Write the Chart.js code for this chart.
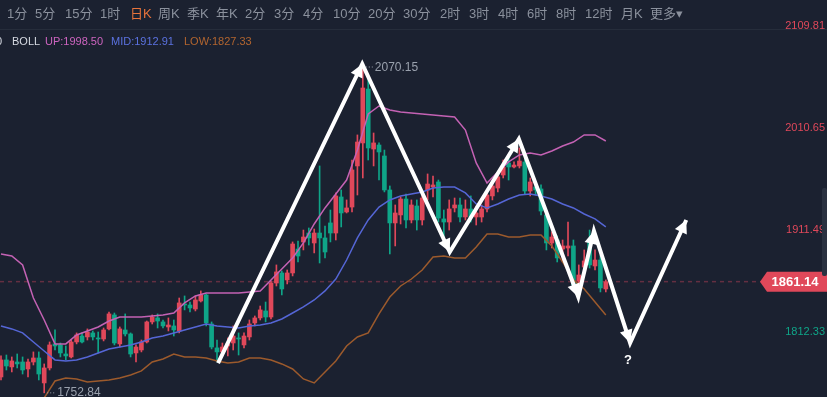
<!DOCTYPE html>
<html>
<head>
<meta charset="utf-8">
<script src="https://cdn.jsdelivr.net/npm/chart.js@4.4.1/dist/chart.umd.min.js"></script>
<style>
  html, body { margin: 0; padding: 0; background: #1b2130; }
  #wrap { position: relative; width: 827px; height: 397px; overflow: hidden; }
  #c { position: absolute; left: 0; top: 0; }
  .tb { position: absolute; top: 5px; font-size: 13px; line-height: 18px; color: #8b919d;
        font-family: "Liberation Sans", "Noto Sans CJK SC", sans-serif; white-space: nowrap; }
  .tb.on { color: #e8743b; }
  .lg { position: absolute; top: 33px; font-size: 11px; line-height: 16px;
        font-family: "Liberation Sans", Arial, sans-serif; white-space: nowrap; }
  #sep { position: absolute; left: 0; top: 29px; width: 827px; height: 1px; background: #262d3b; }
  #scroll { position: absolute; left: 822px; top: 188px; width: 5px; height: 88px; background: #2a3140; border-radius: 2px; }
</style>
</head>
<body>
<div id="wrap">
  <canvas id="c" width="827" height="397"></canvas>
  <div id="sep"></div>
  <div id="scroll"></div>
</div>
<script>
// candles, oldest first (daily K)
const opens = [1768.3, 1784.9, 1778.1, 1782.9, 1782.9, 1776.1, 1782.9, 1786.8, 1762.5, 1777.1,
  1800.5, 1799.5, 1790.7, 1787.8, 1802.4, 1808.2, 1807.3, 1811.2, 1806.3, 1805.3,
  1815.1, 1828.7, 1800.5, 1814.1, 1810.2, 1791.7, 1794.6, 1802.4, 1821.9, 1825.8,
  1821.9, 1817.0, 1818.0, 1813.1, 1839.4, 1838.4, 1834.5, 1842.3, 1848.2, 1819.9,
  1796.6, 1792.7, 1798.5, 1801.4, 1806.3, 1799.5, 1807.3, 1820.9, 1825.8, 1832.6,
  1826.7, 1859.8, 1869.6, 1862.8, 1869.6, 1892.9, 1899.8, 1908.5, 1898.8, 1908.5,
  1903.7, 1918.3, 1908.5, 1943.6, 1929.0, 1933.8, 1973.8, 1996.2, 2048.7, 1990.3,
  1994.2, 1983.5, 1950.4, 1918.3, 1926.1, 1941.6, 1921.2, 1934.8, 1921.2, 1950.4,
  1953.3, 1958.2, 1922.2, 1919.2, 1932.9, 1935.8, 1924.1, 1931.9, 1924.1, 1924.1,
  1931.9, 1944.6, 1952.3, 1965.0, 1976.7, 1972.8, 1973.8, 1977.7, 1949.4, 1953.3,
  1951.4, 1926.1, 1898.8, 1901.7, 1892.9, 1893.9, 1895.9, 1861.8, 1875.4, 1901.7,
  1876.4, 1882.2, 1854.0];
const highs = [1788.8, 1789.7, 1787.8, 1790.7, 1787.8, 1785.8, 1792.7, 1792.7, 1781.0, 1802.4,
  1814.1, 1801.4, 1798.5, 1804.3, 1811.2, 1811.2, 1815.1, 1813.1, 1812.1, 1816.0,
  1831.6, 1830.6, 1817.0, 1829.7, 1811.2, 1799.5, 1804.3, 1822.8, 1828.7, 1829.7,
  1823.8, 1825.8, 1823.8, 1845.2, 1847.2, 1841.3, 1847.2, 1852.1, 1849.1, 1821.9,
  1804.3, 1801.4, 1806.3, 1818.0, 1811.2, 1811.2, 1823.8, 1827.7, 1837.4, 1841.3,
  1861.8, 1877.4, 1871.5, 1872.5, 1899.8, 1900.7, 1911.4, 1913.4, 1912.4, 1973.8,
  1915.3, 1930.9, 1947.5, 1950.4, 1940.7, 1979.6, 2004.0, 2070.15, 2059.5, 2005.9,
  1996.2, 1989.3, 1954.3, 1935.8, 1943.6, 1946.5, 1940.7, 1940.7, 1946.5, 1966.0,
  1964.0, 1960.1, 1930.9, 1940.7, 1942.6, 1942.6, 1940.7, 1944.6, 1934.8, 1935.8,
  1950.4, 1960.1, 1967.9, 1979.6, 1981.6, 1977.7, 1991.3, 1981.6, 1962.1, 1957.2,
  1955.3, 1929.0, 1909.5, 1905.6, 1901.7, 1919.2, 1901.7, 1877.4, 1892.0, 1911.4,
  1892.0, 1887.1, 1862.8];
const lows = [1765.4, 1775.1, 1773.2, 1777.1, 1771.2, 1768.3, 1780.0, 1765.4, 1752.84, 1775.1,
  1794.6, 1787.8, 1784.9, 1786.8, 1800.5, 1801.4, 1804.3, 1804.3, 1791.7, 1803.4,
  1814.1, 1799.5, 1797.5, 1808.2, 1787.8, 1782.9, 1792.7, 1801.4, 1819.9, 1816.0,
  1816.0, 1813.1, 1808.2, 1811.2, 1833.6, 1831.6, 1832.6, 1841.3, 1818.0, 1795.6,
  1782.9, 1788.8, 1788.8, 1794.6, 1789.7, 1796.6, 1804.3, 1818.0, 1823.8, 1821.9,
  1824.8, 1856.9, 1848.2, 1858.9, 1866.7, 1880.3, 1892.0, 1896.8, 1889.1, 1879.3,
  1884.2, 1899.8, 1901.7, 1914.4, 1928.0, 1929.0, 1945.5, 1962.1, 1979.6, 1973.8,
  1960.1, 1948.5, 1888.1, 1895.9, 1917.3, 1913.4, 1918.3, 1911.4, 1916.3, 1940.7,
  1943.6, 1919.2, 1896.8, 1911.4, 1929.0, 1919.2, 1921.2, 1919.2, 1916.3, 1919.2,
  1929.0, 1940.7, 1948.5, 1962.1, 1960.1, 1971.8, 1971.8, 1946.5, 1944.6, 1945.5,
  1926.1, 1892.0, 1893.9, 1880.3, 1880.3, 1886.1, 1853.0, 1858.9, 1870.6, 1874.4,
  1872.5, 1851.1, 1851.1];
const closes = [1784.9, 1779.0, 1783.9, 1781.0, 1775.1, 1782.9, 1786.8, 1771.2, 1777.1, 1799.5,
  1798.5, 1791.7, 1788.8, 1802.4, 1809.2, 1802.4, 1812.1, 1807.3, 1805.3, 1814.1,
  1829.7, 1801.4, 1815.1, 1810.2, 1790.7, 1797.5, 1802.4, 1821.9, 1826.7, 1822.8,
  1818.0, 1818.9, 1814.1, 1840.4, 1838.4, 1835.5, 1843.3, 1848.2, 1820.9, 1797.5,
  1792.7, 1797.5, 1800.5, 1808.2, 1805.3, 1808.2, 1819.9, 1825.8, 1833.6, 1826.7,
  1859.8, 1870.6, 1854.0, 1869.6, 1897.8, 1886.1, 1904.6, 1903.7, 1908.5, 1903.7,
  1890.0, 1908.5, 1944.6, 1928.0, 1932.9, 1969.9, 1997.1, 2049.7, 1991.3, 1996.2,
  1987.4, 1950.4, 1918.3, 1928.0, 1941.6, 1921.2, 1935.8, 1921.2, 1942.6, 1956.2,
  1955.3, 1923.1, 1919.2, 1931.9, 1935.8, 1924.1, 1931.9, 1924.1, 1928.0, 1931.9,
  1945.5, 1954.3, 1963.1, 1972.8, 1972.8, 1974.7, 1978.6, 1949.4, 1958.2, 1950.4,
  1929.9, 1898.8, 1904.6, 1884.2, 1895.9, 1895.9, 1857.9, 1867.6, 1881.3, 1877.4,
  1882.2, 1855.0, 1861.14];

// BOLL bands, sampled every other candle
const bandIdx = [0, 2, 4, 6, 8, 10, 12, 14, 16, 18, 20, 22, 24, 26, 28, 30, 32, 34, 36, 38,
  40, 42, 44, 46, 48, 50, 52, 54, 56, 58, 60, 62, 64, 66, 68, 70, 72, 74, 76, 78,
  80, 82, 84, 86, 88, 90, 92, 94, 96, 98, 100, 102, 104, 106, 108, 110, 112];
const bollUp = [1888.1, 1886.1, 1877.4, 1845.2, 1823.8, 1800.5, 1800.5, 1809.2, 1813.1, 1817.0,
  1822.8, 1826.7, 1826.7, 1826.7, 1827.7, 1828.7, 1830.6, 1840.4, 1847.2, 1850.1,
  1850.1, 1850.1, 1850.1, 1851.1, 1852.1, 1862.8, 1873.5, 1884.2, 1898.8, 1917.3,
  1932.9, 1946.5, 1960.1, 1989.3, 2024.4, 2032.2, 2028.3, 2026.3, 2025.4, 2024.4,
  2023.4, 2022.5, 2021.5, 2008.8, 1976.7, 1957.2, 1967.9, 1977.7, 1984.5, 1986.4,
  1984.5, 1988.4, 1993.2, 1997.1, 2004.0, 2004.0, 1998.1];
const bollMid = [1818.0, 1815.1, 1811.2, 1802.4, 1793.6, 1784.9, 1783.9, 1784.9, 1787.8, 1791.7,
  1795.6, 1797.5, 1799.5, 1802.4, 1806.3, 1808.2, 1811.2, 1814.1, 1817.0, 1819.9,
  1818.0, 1817.0, 1816.0, 1818.0, 1818.9, 1820.9, 1824.8, 1830.6, 1836.5, 1843.3,
  1852.1, 1863.7, 1882.2, 1903.7, 1921.2, 1933.8, 1940.7, 1944.6, 1946.5, 1948.5,
  1952.3, 1953.3, 1953.3, 1947.5, 1936.8, 1932.9, 1936.8, 1941.6, 1945.5, 1946.5,
  1944.6, 1941.6, 1936.8, 1932.9, 1927.0, 1922.2, 1914.4];
const bollLow = [1716.7, 1721.6, 1731.3, 1741.1, 1747.9, 1764.4, 1767.3, 1766.4, 1763.4, 1764.4,
  1765.4, 1767.3, 1770.3, 1774.2, 1782.9, 1785.8, 1790.7, 1787.8, 1787.8, 1786.8,
  1783.9, 1781.9, 1782.9, 1786.8, 1786.8, 1784.9, 1781.0, 1776.1, 1766.4, 1762.5,
  1773.2, 1783.9, 1798.5, 1807.3, 1811.2, 1829.7, 1846.2, 1856.9, 1863.7, 1872.5,
  1885.2, 1886.1, 1884.2, 1884.2, 1894.9, 1907.6, 1907.6, 1904.6, 1904.6, 1906.6,
  1906.6, 1895.9, 1880.3, 1862.8, 1854.0, 1841.3, 1828.7];

// hand-drawn zigzag arrows (candle index, price)
const arrowIdx = [40.2, 66.9, 83.1, 95.9, 106.9, 109.8, 116.5, 126.9];
const arrowPrice = [1781.9, 2073.1, 1890.0, 2000.1, 1846.2, 1910.5, 1801.4, 1921.2];

const yTicks = [2109.81, 2010.65, 1911.49, 1812.33];
const lastPrice = 1861.14;
const peakIdx = 67, peakPrice = 2070.15;
const lowIdx = 8, lowPrice = 1752.84;

const tabs = [["1分", 7], ["5分", 35], ["15分", 65], ["1时", 100], ["日K", 130], ["周K", 158],
  ["季K", 187], ["年K", 216], ["2分", 245], ["3分", 274], ["4分", 303], ["10分", 333],
  ["20分", 368], ["30分", 403], ["2时", 440], ["3时", 469], ["4时", 498], ["6时", 527],
  ["8时", 556], ["12时", 585], ["月K", 621], ["更多▾", 650]];

const RED = "#e0485a";
const TEAL = "#0fa588";
const BG = "#1b2130";

// header + legend as plain text
const wrap = document.getElementById("wrap");
tabs.forEach(([t, x]) => {
  const d = document.createElement("div");
  d.className = "tb" + (t === "日K" ? " on" : "");
  d.style.left = x + "px";
  d.textContent = t;
  wrap.appendChild(d);
});
[["0", -4, "#d6dae2"], ["BOLL", 12, "#d6dae2"], ["UP:1998.50", 45, "#cd64bf"],
 ["MID:1912.91", 111, "#5b72e0"], ["LOW:1827.33", 184, "#b2652f"]].forEach(([t, x, c]) => {
  const d = document.createElement("div");
  d.className = "lg";
  d.style.left = x + "px";
  d.style.color = c;
  d.textContent = t;
  wrap.appendChild(d);
});

const candleColors = closes.map((c, i) => (c >= opens[i] ? RED : TEAL));
const bodies = closes.map((c, i) => ({ x: i, y: [opens[i], c] }));
const wicks = closes.map((c, i) => ({ x: i, y: [lows[i], highs[i]] }));
const band = (arr) => bandIdx.map((x, k) => ({ x: x, y: arr[k] }));
const arrowPts = arrowIdx.map((x, k) => ({ x: x, y: arrowPrice[k] }));

const overlay = {
  id: "overlay",
  beforeDraw(chart) {
    const ctx = chart.ctx;
    ctx.save();
    ctx.fillStyle = BG;
    ctx.fillRect(0, 0, chart.width, chart.height);
    ctx.restore();
  },
  beforeDatasetsDraw(chart) {
    const ctx = chart.ctx;
    const y = chart.scales.y.getPixelForValue(lastPrice);
    ctx.save();
    ctx.strokeStyle = "rgba(160,60,80,0.55)";
    ctx.lineWidth = 1.5;
    ctx.setLineDash([4, 4]);
    ctx.beginPath();
    ctx.moveTo(0, y);
    ctx.lineTo(chart.chartArea.right - 66, y);
    ctx.stroke();
    ctx.restore();
  },
  afterDatasetsDraw(chart) {
    const ctx = chart.ctx;
    const xs = chart.scales.x, ys = chart.scales.y;
    ctx.save();
    // arrow heads
    ctx.fillStyle = "#ffffff";
    for (let k = 1; k < arrowIdx.length; k++) {
      const px = xs.getPixelForValue(arrowIdx[k]), py = ys.getPixelForValue(arrowPrice[k]);
      const qx = xs.getPixelForValue(arrowIdx[k - 1]), qy = ys.getPixelForValue(arrowPrice[k - 1]);
      const a = Math.atan2(py - qy, px - qx);
      const L = 13, W = 6.5;
      const bx = px - L * Math.cos(a), by = py - L * Math.sin(a);
      ctx.beginPath();
      ctx.moveTo(px, py);
      ctx.lineTo(bx - W * Math.sin(a), by + W * Math.cos(a));
      ctx.lineTo(bx + W * Math.sin(a), by - W * Math.cos(a));
      ctx.closePath();
      ctx.fill();
    }
    // question mark
    ctx.font = "bold 13px 'Liberation Sans', Arial, sans-serif";
    ctx.textAlign = "center";
    ctx.textBaseline = "middle";
    ctx.fillText("?", xs.getPixelForValue(116.1), ys.getPixelForValue(1784.9));
    // extreme labels
    ctx.font = "12px 'Liberation Sans', Arial, sans-serif";
    ctx.textAlign = "left";
    ctx.fillStyle = "#9aa1ad";
    ctx.strokeStyle = "#9aa1ad";
    ctx.lineWidth = 1;
    ctx.setLineDash([1, 2]);
    const hx = xs.getPixelForValue(peakIdx), hy = ys.getPixelForValue(peakPrice);
    ctx.beginPath(); ctx.moveTo(hx + 3, hy); ctx.lineTo(hx + 11, hy); ctx.stroke();
    ctx.fillText(peakPrice.toFixed(2), hx + 12, hy + 1);
    const lx = xs.getPixelForValue(lowIdx), ly = ys.getPixelForValue(lowPrice);
    ctx.beginPath(); ctx.moveTo(lx + 3, ly); ctx.lineTo(lx + 11, ly); ctx.stroke();
    ctx.fillText(lowPrice.toFixed(2), lx + 13, ly);
    ctx.restore();
  },
  afterDraw(chart) {
    const ctx = chart.ctx;
    const r = chart.chartArea.right;
    const y = chart.scales.y.getPixelForValue(lastPrice);
    ctx.save();
    ctx.fillStyle = RED;
    ctx.beginPath();
    ctx.moveTo(r - 67, y);
    ctx.lineTo(r - 60, y - 10);
    ctx.lineTo(r, y - 10);
    ctx.lineTo(r, y + 10);
    ctx.lineTo(r - 60, y + 10);
    ctx.closePath();
    ctx.fill();
    ctx.fillStyle = "#ffffff";
    ctx.font = "bold 13px 'Liberation Sans', Arial, sans-serif";
    ctx.textAlign = "center";
    ctx.textBaseline = "middle";
    ctx.fillText(lastPrice.toFixed(2), r - 32, y + 1);
    ctx.restore();
  },
};

new Chart(document.getElementById("c"), {
  type: "bar",
  data: {
    datasets: [
      {
        type: "line", data: arrowPts, borderColor: "#ffffff", borderWidth: 4,
        pointRadius: 0, tension: 0, fill: false, borderJoinStyle: "miter",
      },
      { type: "line", data: band(bollUp), borderColor: "#c462b4", borderWidth: 1.5, pointRadius: 0, fill: false },
      { type: "line", data: band(bollMid), borderColor: "#5566d6", borderWidth: 1.5, pointRadius: 0, fill: false },
      { type: "line", data: band(bollLow), borderColor: "#9c5a2c", borderWidth: 1.5, pointRadius: 0, fill: false },
      {
        data: bodies, backgroundColor: candleColors, borderWidth: 0,
        barThickness: 4, minBarLength: 1, grouped: false,
      },
      {
        data: wicks, backgroundColor: candleColors, borderWidth: 0,
        barThickness: 1, grouped: false,
      },
    ],
  },
  options: {
    responsive: false,
    animation: false,
    layout: { padding: 0 },
    plugins: { legend: { display: false }, tooltip: { enabled: false } },
    scales: {
      x: {
        type: "linear", display: false, offset: false,
        min: -0.185, max: 152.96,
      },
      y: {
        position: "right",
        min: 1748.8, max: 2135.4,
        grid: { display: false, drawTicks: false },
        border: { display: false },
        afterBuildTicks: (s) => { s.ticks = yTicks.map((v) => ({ value: v })); },
        afterFit: (s) => {
          s.width = 0;
          s.paddingTop = 0;
          s.paddingBottom = 0;
        },
        ticks: {
          mirror: true, padding: -2, autoSkip: false,
          font: { size: 11, family: "'Liberation Sans', Arial, sans-serif" },
          color: (c) => (c.tick && c.tick.value > lastPrice ? RED : TEAL),
          callback: (v) => Number(v).toFixed(2),
        },
      },
    },
  },
  plugins: [overlay],
});
</script>
</body>
</html>
